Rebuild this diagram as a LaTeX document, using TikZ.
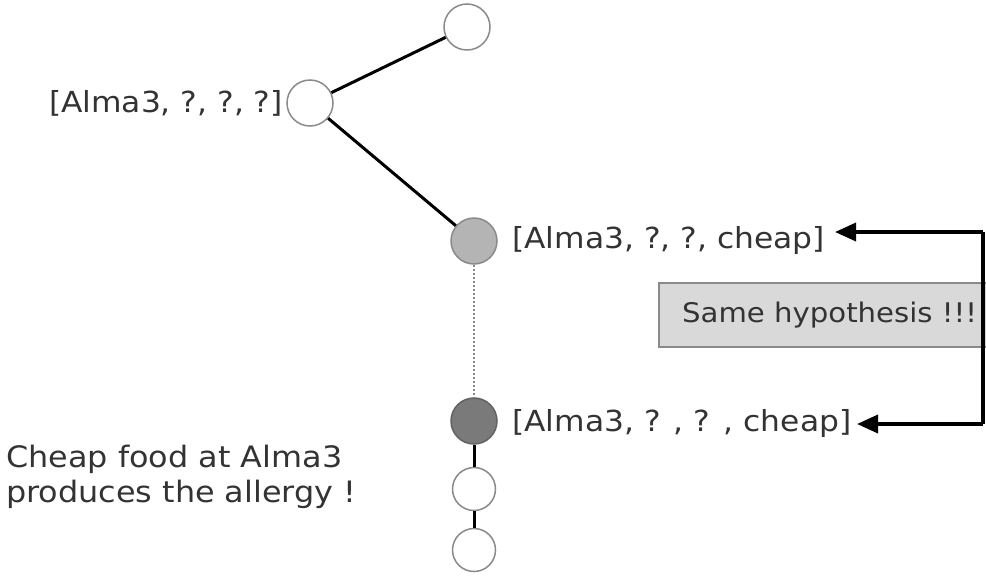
\documentclass[tikz,border=0pt]{standalone}
\usepackage{fontspec}
\setmainfont[FakeStretch=1.08]{DejaVu Sans}
\usetikzlibrary{arrows.meta}
\definecolor{txt}{HTML}{333333}
\definecolor{ring}{HTML}{8A8A8A}
\definecolor{light}{HTML}{B4B4B4}
\definecolor{dark}{HTML}{7A7A7A}
\definecolor{boxfill}{HTML}{D9D9D9}
\tikzset{
  state/.style={circle,draw=ring,line width=1.5pt,fill=white,minimum size=46pt,inner sep=0pt},
  lab/.style={text=txt,font=\fontsize{29}{34}\selectfont,inner sep=2pt},
  edge/.style={black,line width=3pt},
  arr/.style={line width=3.5pt,-{Triangle[length=21pt,width=18pt]}},
}
\begin{document}
\begin{tikzpicture}[x=1pt,y=-1pt]
\useasboundingbox (0,0) rectangle (986,576);
\begin{scope}
\clip (0,0) rectangle (986,576);
% nodes
\node[state] (n1) at (467,27) {};
\node[state] (n2) at (310,103) {};
\node[state,fill=light] (n3) at (474,241) {};
\node[state,fill=dark,draw=dark!80!black] (n4) at (474,421) {};
\node[state,minimum size=43pt] (n5) at (474,489) {};
\node[state,minimum size=43pt] (n6) at (474,550) {};
% labels
\node[lab,anchor=east] (l2) at (285,103) {[Alma3, ?, ?, ?]};
\node[lab,anchor=west] (l3) at (510,240) {[Alma3, ?, ?, cheap]};
\node[lab,anchor=west] (l4) at (510,423) {[Alma3, ? , ? , cheap]};
\node[lab,anchor=west,align=left,font=\fontsize{29.5}{35}\selectfont] (msg) at (4,477) {Cheap food at Alma3\\produces the allergy !};
% box
\node[draw=ring,line width=1.5pt,fill=boxfill,minimum height=64pt,minimum width=340pt,anchor=west] (box) at (658,315) {};
\node[lab,anchor=west,font=\fontsize{27}{32}\selectfont] (boxt) at (680,315) {Same hypothesis !!!};
% edges
\draw[edge] (n2) -- (n1);
\draw[edge] (n2) -- (n3);
\draw[ring,line width=2pt,dotted] (n3) -- (n4);
\draw[edge] (n4) -- (n5);
\draw[edge] (n5) -- (n6);
% bracket arrows
\coordinate (c1) at (983,232);
\coordinate (c2) at (983,424);
\coordinate (t1) at (835,232);
\coordinate (t2) at (857,424);
\draw[line width=3.5pt] (c1) -- (c2);
\draw[arr] (c1) -- (t1);
\draw[arr] (c2) -- (t2);
\end{scope}
\end{tikzpicture}
\end{document}
